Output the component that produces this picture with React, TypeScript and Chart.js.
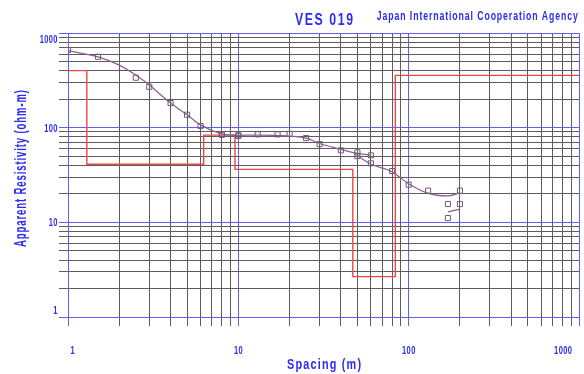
import React, { useEffect, useRef } from 'react';
import { Chart, registerables } from 'chart.js';

Chart.register(...registerables);

// ---------- data ----------
const spacingObs = [1, 1.5, 2.5, 3, 4, 5, 6, 8, 8, 10, 10, 13, 17, 20, 25, 30, 40, 50, 50, 60, 60, 80, 100, 130, 170, 170, 200, 200];
const rhoObs = [660, 561, 337, 270, 182, 137, 104, 84, 85, 83, 82, 85, 85, 86, 77.6, 67, 57.6, 54.8, 50.1, 51, 42, 34.8, 25, 21.6, 15.6, 11.1, 21.6, 15.6];

const curveASpacing = [1, 1.5, 2, 2.5, 3, 4, 5, 6, 8, 10, 13, 20, 25, 30, 40, 50, 60];
const curveARho = [650, 560, 458, 359, 282, 182, 137, 107, 86, 83, 83.5, 81.5, 77.6, 68, 59, 53.5, 51.4];

const curveBSpacing = [50, 60, 80, 100, 130, 170, 200];
const curveBRho = [50.5, 41.3, 34.2, 25.5, 20.2, 19, 20.5];

const curveCSpacing = [170, 200];
const curveCRho = [12.9, 13.8];

const layerRho = [400, 41, 83.5, 36.3, 2.67, 357];
const layerBottom = [1.29, 6.26, 9.56, 47, 83.5];

const xTickLabels = ['1', '10', '100', '1000'];
const yTickLabels = ['1', '10', '100', '1000'];

const titleText = 'VES 019';
const agencyText = 'Japan International Cooperation Agency';
const xTitle = 'Spacing (m)';
const yTitle = 'Apparent Resistivity (ohm-m)';

const X_MIN = 1, X_MAX = 1000, Y_MIN = 1, Y_MAX = 1000;

// ---------- styles ----------
const W = 584, H = 374;
const AREA = { left: 68, right: 580, top: 33, bottom: 317 };
const BLUE_TEXT = '#2b2bf2';
const MAJOR = '#5f5ff5';
const MINOR = '#5c5c5c';
const FONT = "'Liberation Sans', Arial, sans-serif";

function logTicks(min: number, max: number) {
  const out: number[] = [];
  const e0 = Math.round(Math.log10(min));
  const e1 = Math.round(Math.log10(max));
  for (let e = e0; e < e1; e++) {
    for (let d = 1; d <= 9; d++) out.push(d * Math.pow(10, e));
  }
  out.push(max);
  return out;
}

function isDecade(v: number | undefined) {
  if (v === undefined) return false;
  const l = Math.log10(v);
  return Math.abs(l - Math.round(l)) < 1e-9;
}

function pts(xs: number[], ys: number[]) {
  return xs.map((x, i) => ({ x, y: ys[i] }));
}

function modelPoints() {
  const bounds = [X_MIN, ...layerBottom, X_MAX];
  const out: { x: number; y: number }[] = [];
  for (let i = 0; i < layerRho.length; i++) {
    out.push({ x: bounds[i], y: layerRho[i] });
    out.push({ x: bounds[i + 1], y: layerRho[i] });
  }
  return out;
}

// Draws text with horizontally condensed glyphs and extra letter gaps.
function drawText(
  ctx: CanvasRenderingContext2D,
  text: string,
  x: number,
  capCenterY: number,
  size: number,
  weight: string,
  opts: { width?: number; scaleX?: number; gap?: number; align?: 'center' | 'right'; rotate?: boolean } = {}
) {
  ctx.save();
  ctx.font = `${weight} ${size}px ${FONT}`;
  ctx.fillStyle = BLUE_TEXT;
  ctx.textAlign = 'left';
  ctx.textBaseline = 'alphabetic';
  const chars = Array.from(text);
  const widths = chars.map((c) => ctx.measureText(c).width);
  const sum = widths.reduce((a, b) => a + b, 0);
  const gap = opts.gap ?? 0;
  const sx = opts.width ? (opts.width - gap * (chars.length - 1)) / sum : opts.scaleX ?? 1;
  const total = sum * sx + gap * (chars.length - 1);
  ctx.translate(x, capCenterY);
  if (opts.rotate) ctx.rotate(-Math.PI / 2);
  let cx = (opts.align ?? 'center') === 'center' ? -total / 2 : -total;
  chars.forEach((c, i) => {
    ctx.save();
    ctx.translate(cx, size * 0.358);
    ctx.scale(sx, 1);
    ctx.fillText(c, 0, 0);
    ctx.restore();
    cx += widths[i] * sx + gap;
  });
  ctx.restore();
}

const textPlugin = {
  id: 'vesText',
  afterDraw(chart: any) {
    const ctx = chart.ctx as CanvasRenderingContext2D;
    const xs = chart.scales.x;
    const ys = chart.scales.y;
    drawText(ctx, titleText, 324, 19.2, 16, 'bold', { width: 58, gap: 1.6 });
    drawText(ctx, agencyText, 477.3, 15.5, 12.5, 'bold', { width: 201, gap: 0.9 });
    drawText(ctx, xTitle, 324, 363.7, 15, 'bold', { width: 74, gap: 1.2 });
    drawText(ctx, yTitle, 20, 168.5, 16, 'bold', { width: 157, gap: 0.9, rotate: true });
    // tick labels (edge labels nudged inward as in the original)
    xTickLabels.forEach((t, i) => {
      const v = Math.pow(10, i);
      let px = xs.getPixelForValue(v);
      if (i === 0) px += 4.5;
      if (i === xTickLabels.length - 1) px -= 16;
      drawText(ctx, t, px, 350.3, 11, 'bold', { scaleX: 0.68, gap: 0.4 });
    });
    yTickLabels.forEach((t, i) => {
      const v = Math.pow(10, i);
      let py = ys.getPixelForValue(v);
      if (i === 0) py -= 7;
      if (i === yTickLabels.length - 1) py += 6;
      drawText(ctx, t, 57.5, py, 11, 'bold', { scaleX: 0.68, gap: 0.4, align: 'right' });
    });
  },
};

function gridOpts() {
  return {
    color: (c: any) => (isDecade(c.tick?.value) ? MAJOR : MINOR),
    lineWidth: 1,
    drawTicks: true,
    tickLength: 9,
  };
}

export default function App() {
  const ref = useRef<HTMLCanvasElement | null>(null);

  useEffect(() => {
    document.body.style.margin = '0';
    const canvas = ref.current;
    if (!canvas) return;
    const chart = new Chart(canvas, {
      type: 'scatter',
      data: {
        datasets: [
          {
            label: 'Observed',
            data: pts(spacingObs, rhoObs),
            showLine: false,
            pointStyle: 'rect',
            pointRadius: 3.6,
            pointBorderWidth: 1,
            pointBorderColor: '#725a74',
            pointBackgroundColor: 'rgba(255,255,255,0)',
            order: 0,
          } as any,
          {
            label: 'Calculated A',
            data: pts(curveASpacing, curveARho),
            showLine: true,
            borderColor: '#8d5f93',
            borderWidth: 1.2,
            pointRadius: 0,
            cubicInterpolationMode: 'monotone',
            order: 1,
          } as any,
          {
            label: 'Calculated B',
            data: pts(curveBSpacing, curveBRho),
            showLine: true,
            borderColor: '#8d5f93',
            borderWidth: 1.2,
            pointRadius: 0,
            cubicInterpolationMode: 'monotone',
            order: 1,
          } as any,
          {
            label: 'Calculated C',
            data: pts(curveCSpacing, curveCRho),
            showLine: true,
            borderColor: '#8d5f93',
            borderWidth: 1.2,
            pointRadius: 0,
            order: 1,
          } as any,
          {
            label: 'Model',
            data: modelPoints(),
            showLine: true,
            borderColor: '#f04545',
            borderWidth: 1.4,
            pointRadius: 0,
            tension: 0,
            order: 2,
          } as any,
        ],
      },
      options: {
        responsive: false,
        animation: false,
        events: [],
        layout: { padding: { top: AREA.top, right: W - AREA.right, left: 0, bottom: 0 } },
        plugins: {
          legend: { display: false },
          tooltip: { enabled: false },
          title: { display: false },
        },
        scales: {
          x: {
            type: 'logarithmic',
            position: 'bottom',
            min: X_MIN,
            max: X_MAX,
            afterBuildTicks: (s: any) => {
              s.ticks = logTicks(X_MIN, X_MAX).map((value) => ({ value }));
            },
            afterFit: (s: any) => {
              s.height = H - AREA.bottom;
            },
            ticks: { display: false },
            grid: gridOpts(),
            border: { display: true, color: MAJOR, width: 1 },
          },
          y: {
            type: 'logarithmic',
            position: 'left',
            min: Y_MIN,
            max: Y_MAX,
            afterBuildTicks: (s: any) => {
              s.ticks = logTicks(Y_MIN, Y_MAX).map((value) => ({ value }));
            },
            afterFit: (s: any) => {
              s.width = AREA.left;
            },
            ticks: { display: false },
            grid: gridOpts(),
            border: { display: true, color: MAJOR, width: 1 },
          },
        },
      } as any,
      plugins: [textPlugin],
    });
    return () => chart.destroy();
  }, []);

  return (
    <div style={{ width: W, height: H, background: '#fff' }}>
      <canvas ref={ref} width={W} height={H} style={{ display: 'block', width: W, height: H }} />
    </div>
  );
}
